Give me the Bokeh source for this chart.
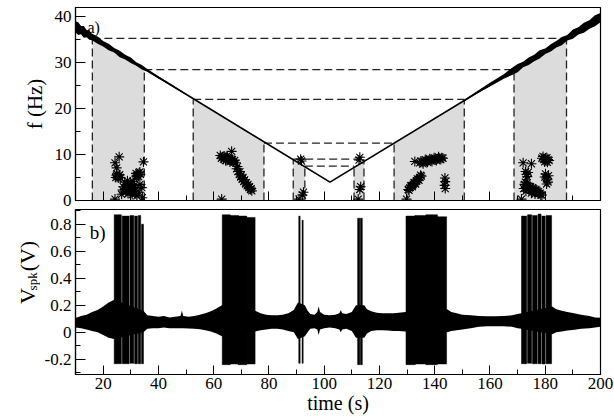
from bokeh.plotting import figure
from bokeh.layouts import column, row
from bokeh.models import Range1d, SingleIntervalTicker, Label, CustomJSTickFormatter
from bokeh.embed import file_html
from bokeh.resources import INLINE

SERIF = "'Liberation Serif', 'Times New Roman', serif"

# ---------------- panel a) data ----------------
freq_t = [10, 102.1, 200]
freq_f = [37.8, 4.0, 39.8]

noise_l_t = [10, 11, 12, 13, 14, 15, 16, 18, 20, 22, 24, 26, 28, 30, 32, 34, 36, 40, 45, 50]
noise_l_hi = [39.0, 38.8, 38.0, 38.0, 37.1, 37.0, 36.3, 35.7, 34.7, 34.1, 33.2, 32.6, 31.7, 31.1, 30.1, 29.5, 28.6, 27.05, 25.2, 23.2]
noise_l_lo = [36.6, 36.0, 36.2, 35.4, 35.5, 35.0, 34.9, 34.1, 33.5, 32.7, 32.2, 31.2, 30.7, 29.9, 29.3, 28.5, 28.0, 26.55, 24.8, 23.0]

noise_r_t = [150, 155, 160, 165, 168, 170, 172, 174, 176, 178, 180, 182, 184, 186, 188, 190, 192, 194, 196, 198, 200]
noise_r_hi = [21.65, 23.65, 25.6, 27.5, 28.9, 29.7, 30.2, 31.1, 31.7, 32.7, 33.1, 34.0, 34.7, 35.6, 36.0, 37.2, 37.7, 38.7, 39.2, 40.3, 40.8]
noise_r_lo = [21.35, 23.15, 24.8, 26.5, 27.3, 27.9, 29.0, 29.5, 30.3, 30.9, 31.9, 32.4, 33.3, 33.8, 34.8, 35.2, 36.1, 36.5, 37.4, 37.9, 38.8]

# shaded windows: left edge (t0,f0) -> right edge (t1,f1)
shade_t0 = [16.1, 52.6, 88.8, 110.8, 125.3, 168.7]
shade_f0 = [35.3, 22.0, 9.0, 7.5, 12.5, 28.5]
shade_t1 = [34.9, 78.2, 93.0, 114.4, 150.7, 187.7]
shade_f1 = [28.5, 12.5, 7.5, 9.0, 22.0, 35.3]

# horizontal dashed levels
level_f = [35.3, 28.5, 22.0, 12.5, 9.0, 7.5]
level_t0 = [16.1, 34.9, 52.6, 78.2, 88.8, 93.0]
level_t1 = [187.7, 168.7, 150.7, 125.3, 114.4, 110.8]

# asterisk points (time, frequency)
star_t = [25.8, 24.3, 24.9, 34.6, 24.8, 25.3, 25.8, 26.2, 25.5, 24.6, 26.0, 25.0,
          31.9, 32.5, 33.0, 33.5, 32.3, 32.0, 33.3, 32.8,
          27.3, 28.0, 28.6, 29.2, 29.8, 30.3, 30.8, 31.3, 31.8, 27.8, 29.0, 30.0, 26.7, 32.2, 33.3, 34.0, 34.2, 24.3,
          28.3, 29.5, 30.5, 31.0, 28.8, 27.0, 33.0, 31.6,
          62.4, 63.2, 64.0, 64.8, 65.6, 66.4, 67.2, 68.0, 63.6, 65.0, 66.5,
          62.8, 63.8, 64.5, 65.3, 66.0, 66.8, 67.6, 64.3, 65.9,
          68.3, 68.8, 69.3, 69.8, 70.3, 70.9, 71.5, 72.1, 72.7, 73.3, 73.8, 62.9,
          68.6, 69.5, 70.0, 70.6, 71.2, 71.8, 72.4, 73.0, 73.6,
          91.5, 91.8, 92.1, 92.5, 90.9,
          112.9, 112.6, 112.9, 113.2, 112.3,
          132.8, 134.6, 135.4, 136.2, 137.0, 137.8, 138.6, 139.4, 140.2, 141.0, 141.8, 142.6,
          135.0, 135.8, 136.6, 137.4, 138.2, 139.0, 139.8, 140.6, 141.4, 142.2, 143.0,
          130.4, 131.0, 131.6, 132.2, 132.8, 133.4, 134.0, 134.6, 135.2,
          130.7, 131.3, 131.9, 132.5, 133.1, 133.7, 134.3, 134.9,
          143.7, 143.8, 143.6, 143.8, 129.8,
          172.0, 175.0, 178.8, 179.5, 180.3, 181.0, 179.8, 180.6, 179.2, 180.0, 180.8, 181.4,
          173.2, 173.8, 180.4, 181.2, 179.8, 180.8, 180.1, 181.0, 180.5, 173.5, 172.9,
          172.5, 173.0, 173.6, 174.2, 174.8, 175.4, 176.0, 176.6, 177.2, 177.8, 178.4, 172.8, 175.0, 176.3, 171.4,
          173.3, 174.0, 174.6, 175.2, 175.8, 176.4, 177.0, 177.6, 178.2, 172.2, 173.0, 178.8]
star_f = [9.5, 8.2, 7.1, 8.4, 5.5, 5.2, 5.4, 5.0, 4.9, 5.0, 5.6, 5.8,
          5.9, 5.6, 6.0, 5.7, 5.4, 5.3, 6.2, 5.2,
          3.0, 2.5, 3.4, 2.2, 3.8, 2.9, 4.2, 3.3, 2.5, 4.0, 1.5, 1.8, 1.35, 1.0, 3.5, 2.8, 0.6, 0.3,
          1.9, 2.8, 1.3, 2.1, 4.3, 2.3, 1.8, 1.5,
          9.8, 9.5, 9.3, 9.0, 8.8, 8.6, 8.4, 8.2, 9.0, 9.4, 10.7,
          9.2, 9.7, 9.5, 9.1, 9.0, 8.9, 8.7, 8.7, 8.4,
          6.9, 6.3, 5.7, 5.1, 4.6, 4.1, 3.6, 3.2, 2.8, 2.4, 2.1, 0.3,
          7.4, 6.3, 5.5, 5.0, 4.5, 3.9, 3.5, 3.0, 2.6,
          9.0, 8.6, 1.2, 1.8, 0.3,
          9.4, 8.8, 2.4, 3.0, 0.3,
          8.5, 8.2, 8.3, 8.5, 8.6, 8.7, 8.8, 8.9, 9.0, 9.1, 9.2, 9.3,
          8.6, 8.0, 8.9, 8.3, 9.1, 8.5, 9.3, 8.7, 9.5, 8.9, 9.2,
          2.4, 2.8, 3.2, 3.5, 3.9, 4.3, 4.6, 5.0, 5.3,
          2.2, 3.2, 3.0, 3.9, 3.6, 4.7, 4.4, 5.5,
          4.9, 4.1, 3.3, 2.6, 0.3,
          8.2, 8.0, 9.2, 8.9, 8.6, 8.9, 8.4, 9.3, 9.6, 9.2, 8.3, 8.7,
          5.7, 6.1, 4.9, 5.4, 5.1, 4.5, 5.8, 4.0, 3.6, 5.2, 6.3,
          3.5, 2.8, 3.3, 2.6, 2.2, 2.8, 2.0, 2.4, 1.8, 1.5, 1.2, 4.0, 1.6, 1.4, 0.3,
          3.8, 3.0, 3.0, 2.3, 2.6, 1.8, 2.2, 1.9, 1.6, 2.6, 2.0, 1.2]

# ---------------- panel b) data ----------------
env_t = [10, 12, 14, 16, 18, 20, 22, 24, 34.6, 36, 38, 40, 42, 44, 46, 48, 48.5, 49, 51, 53, 55, 57, 59, 61, 63,
         75, 77, 79, 81, 83, 85, 87, 89, 90.5, 93, 94, 95, 96.5, 97.5, 98, 98.5, 100, 102, 104, 105.5, 106, 106.5,
         108, 110, 111.5, 114.5, 115.5, 117, 119, 121, 123, 125, 127, 129.5, 144.5, 146, 148, 150, 153, 156, 159,
         162, 165, 168, 170, 171.5, 182.5, 184, 186, 188, 190, 193, 196, 198, 200]
env_hi = [0.105, 0.12, 0.13, 0.15, 0.165, 0.19, 0.22, 0.24, 0.16, 0.125, 0.12, 0.115, 0.12, 0.11, 0.115, 0.12, 0.16, 0.12,
          0.115, 0.12, 0.13, 0.14, 0.155, 0.175, 0.2,
          0.16, 0.14, 0.13, 0.125, 0.125, 0.13, 0.14, 0.165, 0.22, 0.2, 0.16, 0.135, 0.13, 0.15, 0.19, 0.15, 0.13, 0.125,
          0.13, 0.14, 0.165, 0.14, 0.135, 0.15, 0.2, 0.2, 0.17, 0.155, 0.145, 0.14, 0.14, 0.14, 0.145, 0.15, 0.17, 0.15,
          0.14, 0.13, 0.125, 0.12, 0.118, 0.118, 0.12, 0.125, 0.135, 0.14, 0.19, 0.17, 0.16, 0.15, 0.143, 0.13, 0.12,
          0.11, 0.107]
env_lo = [0.035, 0.03, 0.02, 0.01, 0.0, -0.02, -0.04, -0.05, 0.0, 0.025, 0.03, 0.03, 0.035, 0.03, 0.03, 0.03, 0.03, 0.03,
          0.028, 0.025, 0.022, 0.015, 0.005, -0.01, -0.03,
          0.005, 0.015, 0.02, 0.025, 0.025, 0.02, 0.01, 0.0, -0.05, -0.03, 0.0, 0.025, 0.03, 0.02, -0.02, 0.02, 0.03, 0.035,
          0.03, 0.02, 0.0, 0.02, 0.025, 0.01, -0.04, -0.04, -0.01, 0.01, 0.015, 0.015, 0.012, 0.01, 0.01, 0.005, 0.0, 0.01,
          0.015, 0.02, 0.03, 0.04, 0.045, 0.045, 0.045, 0.04, 0.03, 0.025, -0.015, 0.0, 0.005, 0.012, 0.017, 0.025, 0.03,
          0.035, 0.04]

# spike bursts: blocks (start, end, top, bottom)
burst_t0 = [24.0, 26.9, 29.7, 31.4, 32.7, 33.9,
            63.1, 65.8, 68.8, 71.8,
            90.8, 92.0,
            112.1, 113.1,
            129.6, 132.8, 136.8, 140.8,
            171.4, 173.6, 175.4, 177.4, 178.8, 180.3]
burst_t1 = [26.6, 29.4, 31.1, 32.4, 33.6, 34.6,
            66.0, 69.0, 72.0, 75.0,
            91.3, 92.4,
            112.9, 113.8,
            133.0, 137.0, 141.0, 144.3,
            173.3, 175.1, 177.1, 178.5, 180.0, 182.3]
burst_top = [0.87, 0.86, 0.865, 0.86, 0.865, 0.80,
             0.87, 0.865, 0.86, 0.85,
             0.86, 0.83,
             0.845, 0.845,
             0.86, 0.865, 0.87, 0.855,
             0.86, 0.87, 0.865, 0.875, 0.86, 0.865]
burst_bot = [-0.233, -0.233, -0.23, -0.233, -0.233, -0.233,
             -0.24, -0.235, -0.24, -0.235,
             -0.23, -0.23,
             -0.24, -0.24,
             -0.24, -0.235, -0.24, -0.235,
             -0.233, -0.23, -0.233, -0.233, -0.235, -0.233]

x_ticks_interval = 20


def style(p, yint):
    p.xgrid.visible = False
    p.ygrid.visible = False
    p.outline_line_color = "black"
    p.outline_line_width = 1.2
    p.background_fill_color = "white"
    p.border_fill_color = "white"
    p.xaxis.ticker = SingleIntervalTicker(interval=x_ticks_interval, num_minor_ticks=2)
    p.yaxis.ticker = SingleIntervalTicker(interval=yint, num_minor_ticks=2)
    for ax in (p.xaxis[0], p.yaxis[0]):
        ax.axis_line_color = "black"
        ax.axis_line_width = 1.2
        ax.major_tick_line_color = "black"
        ax.minor_tick_line_color = "black"
        ax.major_tick_line_width = 1
        ax.minor_tick_line_width = 1
        ax.major_tick_out = 0
        ax.minor_tick_out = 0
        ax.major_label_text_font = SERIF
        ax.major_label_text_font_size = "17px"
        ax.major_label_text_color = "black"
        ax.axis_label_text_font = SERIF
        ax.axis_label_text_font_style = "normal"
        ax.axis_label_text_color = "black"
    p.xaxis.major_tick_in = 9
    p.xaxis.minor_tick_in = 5
    p.yaxis.major_tick_in = 10
    p.yaxis.minor_tick_in = 5
    p.yaxis.major_label_standoff = 4


# ---------------- top panel ----------------
p1 = figure(width=614, height=209, output_backend="svg", toolbar_location=None,
            x_range=Range1d(10, 200), y_range=Range1d(0, 42),
            min_border_left=75, min_border_right=14, min_border_top=7, min_border_bottom=9)
style(p1, 10)
p1.xaxis.formatter = CustomJSTickFormatter(code="return '';")
p1.xaxis.major_label_text_font_size = "0px"
p1.xaxis.major_label_standoff = 0
p1.yaxis.axis_label = "f (Hz)"
p1.yaxis.axis_label_text_font_size = "21px"
p1.yaxis.axis_label_standoff = 5

xs = [[a, a, b, b] for a, b in zip(shade_t0, shade_t1)]
ys = [[0, fa, fb, 0] for fa, fb in zip(shade_f0, shade_f1)]
p1.patches(xs, ys, fill_color="#dcdcdc", line_color=None)

dash_col = "#222222"
p1.segment(x0=shade_t0, y0=[0] * len(shade_t0), x1=shade_t0, y1=shade_f0,
           line_color=dash_col, line_width=1.3, line_dash="8 4")
p1.segment(x0=shade_t1, y0=[0] * len(shade_t1), x1=shade_t1, y1=shade_f1,
           line_color=dash_col, line_width=1.3, line_dash="8 4")
p1.segment(x0=level_t0, y0=level_f, x1=level_t1, y1=level_f,
           line_color=dash_col, line_width=1.3, line_dash="8 4")

p1.varea(x=noise_l_t, y1=noise_l_lo, y2=noise_l_hi, fill_color="black")
p1.varea(x=noise_r_t, y1=noise_r_lo, y2=noise_r_hi, fill_color="black")
p1.line(freq_t, freq_f, line_color="black", line_width=1.7)

p1.scatter(star_t, star_f, marker="asterisk", size=10, line_color="black", line_width=1.1)

p1.add_layout(Label(x=14.3, y=37.6, text="a)", text_font=SERIF, text_font_size="16px",
                    text_baseline="middle", text_align="left", text_color="black"))

# ---------------- bottom panel ----------------
p2 = figure(width=574, height=208, output_backend="svg", toolbar_location=None,
            x_range=p1.x_range, y_range=Range1d(-0.313, 0.909),
            min_border_left=35, min_border_right=14, min_border_top=0, min_border_bottom=43)
style(p2, 0.2)
p2.xaxis.major_label_standoff = 3
p2.xaxis.axis_label = "time (s)"
p2.xaxis.axis_label_text_font_size = "20px"
p2.xaxis.axis_label_standoff = 0
p2.yaxis.formatter = CustomJSTickFormatter(
    code="return Math.abs(tick) < 1e-9 ? '0' : tick.toFixed(1);")

p2.varea(x=env_t, y1=env_lo, y2=env_hi, fill_color="black")
p2.quad(left=burst_t0, right=burst_t1, top=burst_top, bottom=burst_bot,
        fill_color="black", line_color="black", line_width=0.5)

p2.add_layout(Label(x=15.2, y=0.74, text="b)", text_font=SERIF, text_font_size="19px",
                    text_baseline="middle", text_align="left", text_color="black"))

# narrow strip holding the rotated y label of panel b)
lab = figure(width=40, height=208, output_backend="svg", toolbar_location=None,
             x_range=Range1d(0, 40), y_range=Range1d(0, 208),
             min_border_left=0, min_border_right=0, min_border_top=0, min_border_bottom=0,
             x_axis_location=None, y_axis_location=None)
lab.xgrid.visible = False
lab.ygrid.visible = False
lab.outline_line_color = None
lab.add_layout(Label(x=27, y=89, text="V", angle=1.5708,
                     text_font=SERIF, text_font_size="22px", text_align="left",
                     text_baseline="alphabetic", text_color="black"))
lab.add_layout(Label(x=32, y=106, text="spk", angle=1.5708,
                     text_font=SERIF, text_font_size="13px", text_align="left",
                     text_baseline="alphabetic", text_color="black"))
lab.add_layout(Label(x=27, y=130, text="(V)", angle=1.5708,
                     text_font=SERIF, text_font_size="22px", text_align="left",
                     text_baseline="alphabetic", text_color="black"))

layout = column(p1, row(lab, p2, spacing=0), spacing=0)
open("out.html", "w").write(file_html(layout, INLINE))
